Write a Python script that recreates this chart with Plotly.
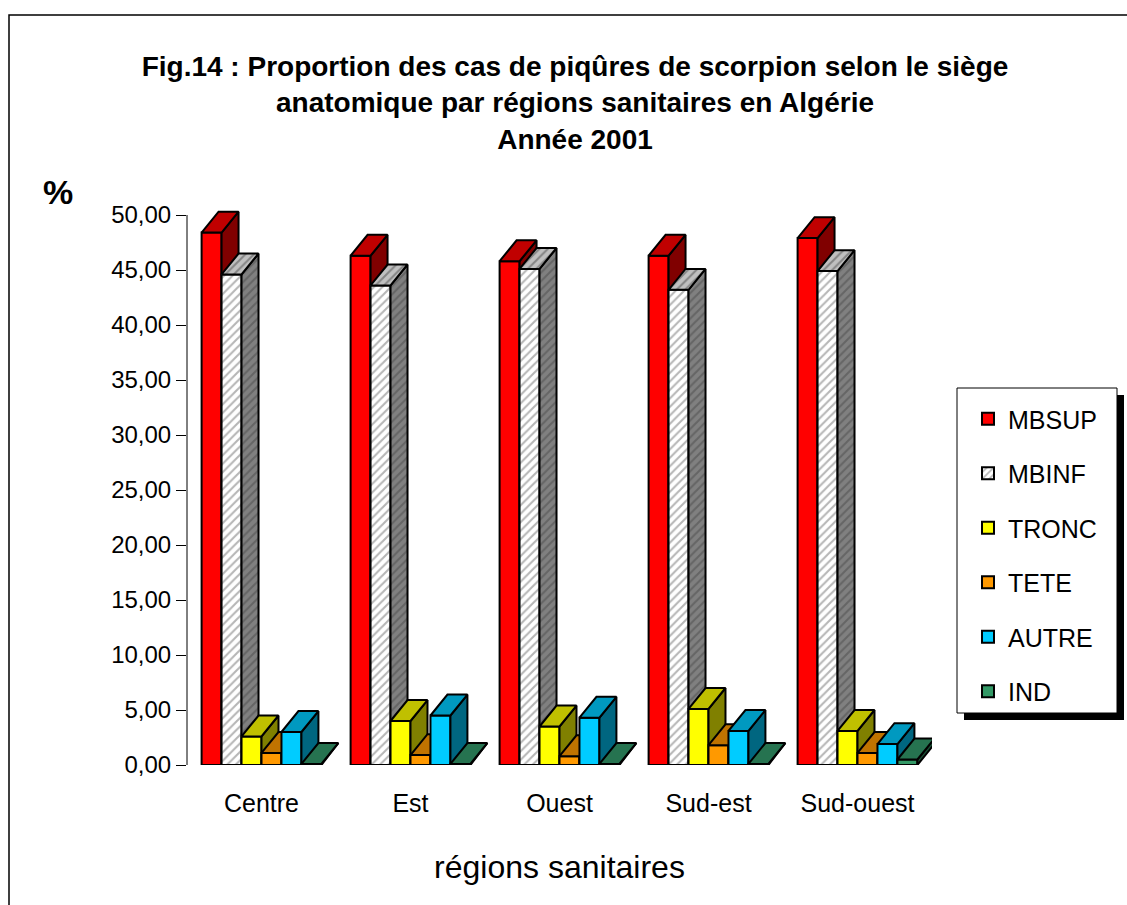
import plotly.graph_objects as go

# ---------------- data ----------------
categories = ["Centre", "Est", "Ouest", "Sud-est", "Sud-ouest"]
series_names = ["MBSUP", "MBINF", "TRONC", "TETE", "AUTRE", "IND"]
mbsup = [48.4, 46.3, 45.8, 46.3, 47.9]
mbinf = [44.6, 43.6, 45.1, 43.2, 44.9]
tronc = [2.6, 4.0, 3.5, 5.1, 3.1]
tete = [1.1, 0.9, 0.8, 1.8, 1.1]
autre = [3.0, 4.5, 4.3, 3.1, 1.9]
ind = [0.1, 0.1, 0.1, 0.1, 0.5]
y_ticks = [0, 5, 10, 15, 20, 25, 30, 35, 40, 45, 50]

series_values = [mbsup, mbinf, tronc, tete, autre, ind]

# ---------------- style ----------------
front_colors = ["#FF0000", "#FFFFFF", "#FFFF00", "#FF9900", "#00CCFF", "#339966"]
top_colors = ["#C00000", "#C0C0C0", "#C0C000", "#C07300", "#0099C0", "#267350"]
side_colors = ["#800000", "#808080", "#808000", "#804C00", "#006680", "#1A4D33"]
hatched = [False, True, False, False, False, False]

W, H = 1127, 905
L, R, B = 187, 195, 140
Y_MAX = 55
PX_PER_UNIT = 11
T = H - B - Y_MAX * PX_PER_UNIT
PW = W - L - R
PH = H - T - B

FONT = "Arial, Liberation Sans, sans-serif"

bar_w = 0.134   # bar width in category units
dx = 0.114      # 3D depth, x (category units)
dy = 1.9        # 3D depth, y (value units)


def px2x(p):
    return (p - L) / PW


def px2y(p):
    return (H - B - p) / PH


fig = go.Figure()
n = len(series_names)
xs_pos = list(range(len(categories)))

for i, (name, vals) in enumerate(zip(series_names, series_values)):
    ax = "" if i == 0 else str(i + 1)
    xa, ya = "x" + ax, "y" + ax
    offset = -n / 2 * bar_w + i * bar_w

    marker = dict(color=front_colors[i], line=dict(color="black", width=2))
    if hatched[i]:
        marker["pattern"] = dict(shape="/", fgcolor="#6E6E6E", bgcolor="#FFFFFF",
                                 size=6, solidity=0.35)
    fig.add_trace(go.Bar(
        x=xs_pos, y=vals, name=name, width=bar_w, offset=offset,
        marker=marker, xaxis=xa, yaxis=ya, legendgroup=name,
        hovertemplate=name + " %{y:.2f}<extra></extra>",
    ))

    # side and top faces computed from the same data
    sx, sy, tx, ty = [], [], [], []
    for c, v in zip(xs_pos, vals):
        x0 = c + offset
        x1 = x0 + bar_w
        sx += [x1, x1 + dx, x1 + dx, x1, x1, None]
        sy += [0, dy, v + dy, v, 0, None]
        tx += [x0, x1, x1 + dx, x0 + dx, x0, None]
        ty += [v, v, v + dy, v + dy, v, None]
    for fx, fy, col in ((sx, sy, side_colors[i]), (tx, ty, top_colors[i])):
        kw = dict(fill="toself", fillcolor=col)
        if hatched[i]:
            kw["fillpattern"] = dict(shape="/", fgcolor="#4A4A4A", bgcolor=col,
                                     size=6, solidity=0.35)
        fig.add_trace(go.Scatter(
            x=fx, y=fy, mode="lines", line=dict(color="black", width=2),
            showlegend=False, hoverinfo="skip", xaxis=xa, yaxis=ya,
            legendgroup=name, **kw))

layout = dict(
    width=W, height=H, autosize=False,
    margin=dict(l=L, r=R, t=T, b=B),
    paper_bgcolor="white", plot_bgcolor="white",
    separators=", ",
    barmode="overlay",
    font=dict(family=FONT, color="black", size=24),
    title=dict(
        text="<b>Fig.14 : Proportion des cas de piqûres de scorpion selon le siège<br>"
             "anatomique par régions sanitaires en Algérie<br>Année 2001</b>",
        x=575 / W, xanchor="center", xref="container",
        y=1 - 76 / H, yanchor="top", yref="container",
        font=dict(family=FONT, size=28, color="black"),
    ),
    xaxis=dict(range=[-0.5, len(categories) - 0.5], tickvals=xs_pos, ticktext=categories,
               showline=False, showgrid=False, zeroline=False, ticks="",
               tickfont=dict(size=25), ticklabelstandoff=21,
               title=dict(text="régions sanitaires", font=dict(size=32), standoff=39)),
    yaxis=dict(range=[0, Y_MAX], tickvals=y_ticks, tickformat=".2f",
               ticks="outside", ticklen=10, tickcolor="black", tickwidth=1,
               showgrid=False, zeroline=False, showline=False,
               tickfont=dict(size=24)),
    legend=dict(x=px2x(968), xanchor="left", y=px2y(396), yanchor="top",
                bgcolor="rgba(0,0,0,0)", borderwidth=0, font=dict(size=25),
                traceorder="grouped", tracegroupgap=19),
    shapes=[
        # outer frame
        dict(type="rect", xref="paper", yref="paper",
             x0=px2x(9), x1=px2x(1160), y0=px2y(15), y1=px2y(960),
             line=dict(color="black", width=1.5), fillcolor="rgba(0,0,0,0)", layer="below"),
        # y axis line up to the last tick
        dict(type="line", xref="paper", yref="y", x0=0, x1=0, y0=y_ticks[0], y1=y_ticks[-1],
             line=dict(color="black", width=1)),
        # legend shadow and box
        dict(type="rect", xref="paper", yref="paper",
             x0=px2x(964), x1=px2x(1124), y0=px2y(395), y1=px2y(720),
             line=dict(width=0), fillcolor="black", layer="below"),
        dict(type="rect", xref="paper", yref="paper",
             x0=px2x(957), x1=px2x(1117), y0=px2y(388), y1=px2y(713),
             line=dict(color="black", width=1), fillcolor="white", layer="below"),
    ],
    annotations=[
        dict(text="<b>%</b>", xref="paper", yref="paper", x=px2x(58), y=px2y(192),
             xanchor="center", yanchor="middle", showarrow=False,
             font=dict(size=34, family=FONT, color="black")),
    ],
)
for i in range(2, n + 1):
    layout["xaxis%d" % i] = dict(overlaying="x", matches="x", visible=False)
    layout["yaxis%d" % i] = dict(overlaying="y", matches="y", visible=False)

fig.update_layout(**layout)
fig.write_html("out.html", config={"displayModeBar": False},
               post_script="document.body.style.margin='0';")
